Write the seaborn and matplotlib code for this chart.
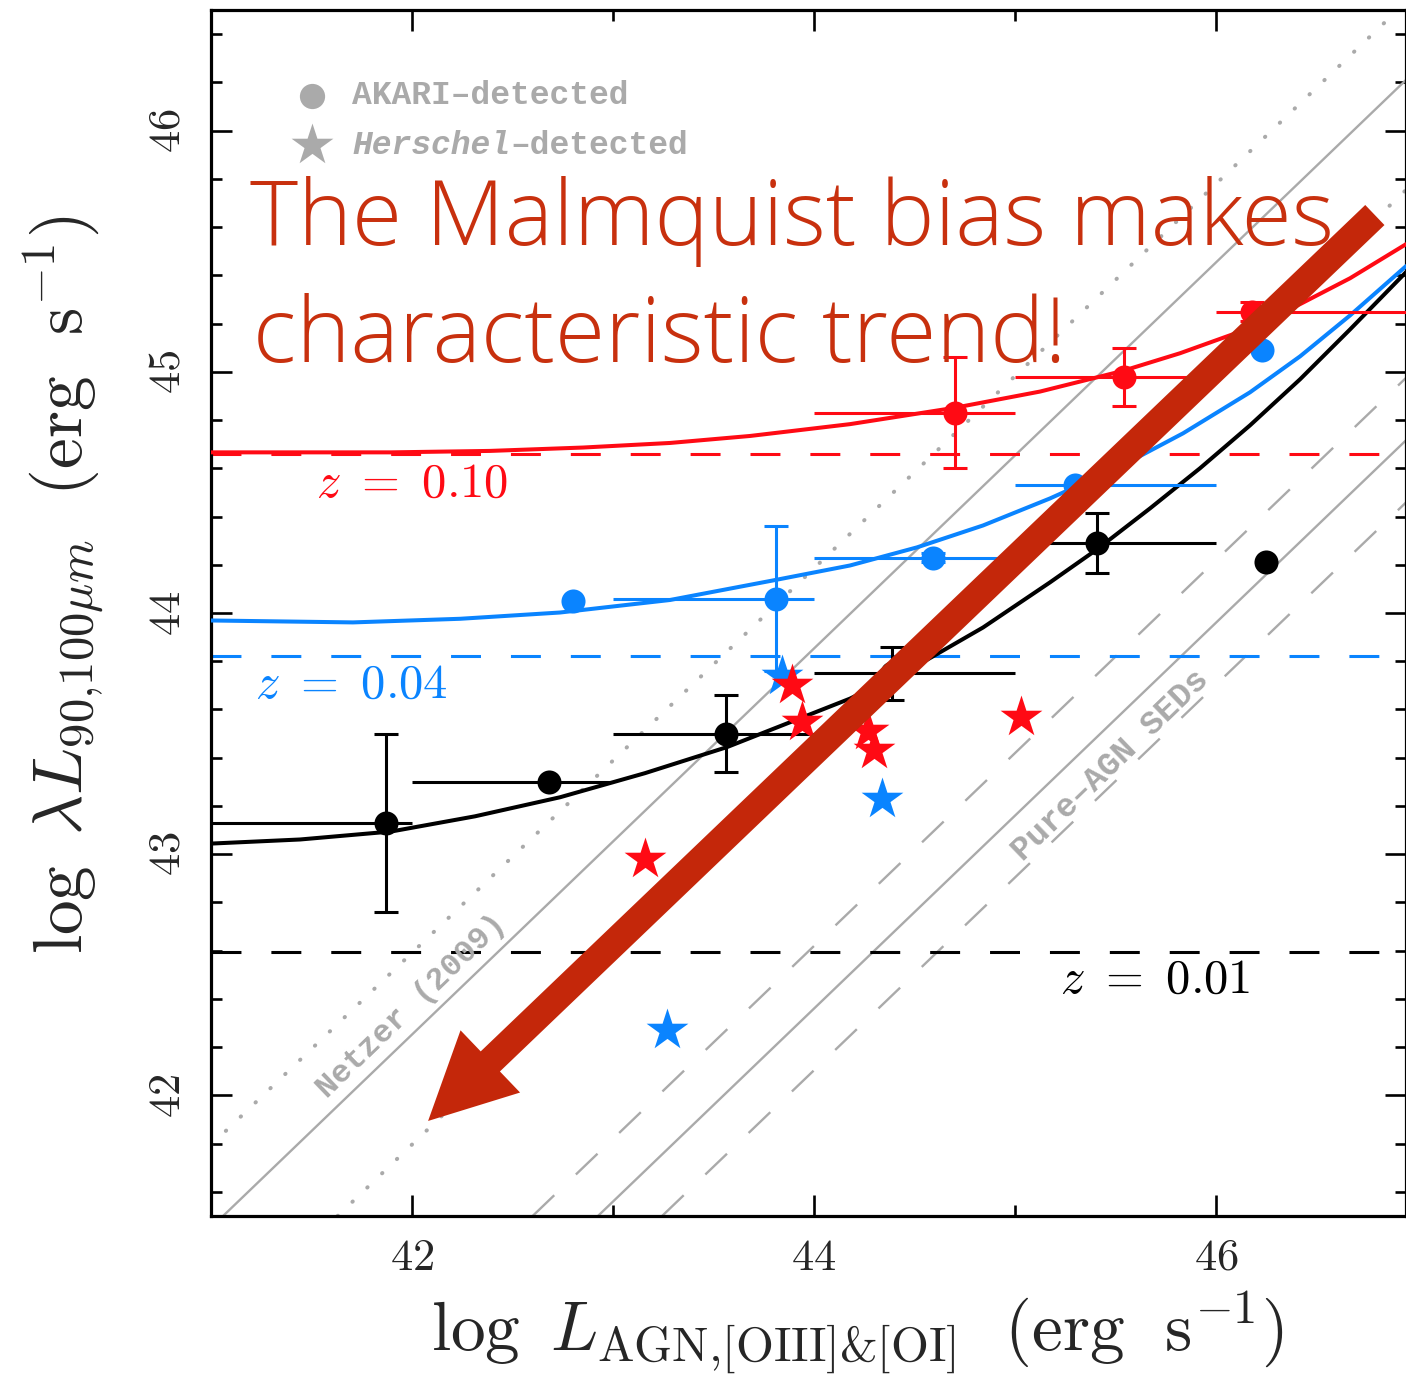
import numpy as np
import pandas as pd
import matplotlib
matplotlib.use("Agg")
import matplotlib.pyplot as plt
import seaborn as sns
from matplotlib.ticker import MultipleLocator, FuncFormatter

# ---------------- data ----------------
# binned AKARI detections (circles): x, y, bin edges, y errors
black_x = [41.87, 42.68, 43.56, 44.39, 45.41, 46.25]
black_y = [43.13, 43.30, 43.50, 43.75, 44.29, 44.21]
black_lo = [41.0, 42.0, 43.0, 44.0, 45.0, None]
black_hi = [42.0, 43.0, 44.0, 45.0, 46.0, None]
black_yerr = [0.37, 0.0, 0.16, 0.11, 0.125, 0.0]

blue_x = [42.80, 43.81, 44.59, 45.30, 46.23]
blue_y = [44.05, 44.06, 44.23, 44.53, 45.09]
blue_lo = [None, 43.0, 44.0, 45.0, None]
blue_hi = [None, 44.0, 45.0, 46.0, None]
blue_yerr = [0.0, 0.30, 0.02, 0.0, 0.0]

red_x = [44.70, 45.54, 46.18]
red_y = [44.83, 44.98, 45.25]
red_lo = [44.0, 45.0, 46.0]
red_hi = [45.0, 46.0, 47.0]
red_yerr = [0.23, 0.12, 0.04]

# Herschel detections (stars)
red_star_x = [43.89, 43.94, 44.27, 44.30, 45.03, 43.16]
red_star_y = [43.70, 43.55, 43.51, 43.43, 43.57, 42.98]
blue_star_x = [43.84, 44.34, 43.27]
blue_star_y = [43.74, 43.23, 42.27]

# model curves (read points)
red_curve_x = [41.000, 41.896, 42.388, 42.851, 43.284, 43.682, 44.179, 44.701,
               45.124, 45.537, 45.821, 46.085, 46.368, 46.667, 46.945]
red_curve_y = [44.666, 44.666, 44.672, 44.686, 44.705, 44.734, 44.783, 44.851,
               44.918, 45.004, 45.077, 45.156, 45.259, 45.388, 45.529]
blue_curve_x = [41.000, 41.706, 42.239, 42.736, 43.284, 43.796, 44.179, 44.512,
                44.841, 45.174, 45.507, 45.836, 46.169, 46.418, 46.667, 46.945]
blue_curve_y = [43.969, 43.961, 43.976, 44.002, 44.054, 44.135, 44.197, 44.272,
                44.363, 44.475, 44.600, 44.745, 44.915, 45.064, 45.234, 45.438]
black_curve_x = [41.000, 41.443, 41.896, 42.313, 42.736, 43.159, 43.567, 44.179,
                 44.512, 44.841, 45.174, 45.408, 45.672, 45.920, 46.169, 46.418,
                 46.667, 46.945]
black_curve_y = [43.044, 43.061, 43.094, 43.157, 43.236, 43.336, 43.444, 43.645,
                 43.782, 43.940, 44.127, 44.264, 44.434, 44.600, 44.778, 44.969,
                 45.176, 45.413]

# redshift flux limits
z_levels = [44.658, 43.82, 42.595]
z_labels = ["0.10", "0.04", "0.01"]

# reference relations: two points on each line
netzer_pts = [(41.06, 41.50), (46.945, 46.21)]
netzer_up_pts = [(41.02, 41.81), (46.17, 45.915)]
netzer_dn_pts = [(41.63, 41.50), (46.94, 45.75)]
agn_pts = [(42.925, 41.50), (46.945, 44.716)]
agn_up_pts = [(42.60, 41.50), (46.035, 44.247)]
agn_dn_pts = [(43.244, 41.50), (46.244, 43.898)]

arrow_start = (46.79, 45.65)
arrow_tip = (42.08, 41.894)

# ---------------- style ----------------
sns.set_theme(style="ticks")
plt.rcParams["font.family"] = ["DejaVu Serif"]
plt.rcParams["mathtext.fontset"] = "cm"

RED = "#ff0a14"
BLUE = "#0a84ff"
BLACK = "#000000"
GRAY = "#aaaaaa"
ARROW = "#c4270a"

W, H = 1406, 1381
fig = plt.figure(figsize=(W / 100, H / 100), dpi=100)
ax = fig.add_axes([211 / W, 1 - 1216 / H, (1406 - 211) / W, (1216 - 10) / H])
ax.set_xlim(41, 46.945)
ax.set_ylim(41.5, 46.5)

# gray relation lines
for pts in [netzer_pts, agn_pts]:
    ax.axline(pts[0], pts[1], color=GRAY, lw=1.7, ls="-", zorder=1)
for pts in [netzer_up_pts, netzer_dn_pts]:
    ax.axline(pts[0], pts[1], color=GRAY, lw=2.9, ls=(0, (0.1, 5.0)),
              dash_capstyle="round", zorder=1)
for pts in [agn_up_pts, agn_dn_pts]:
    ax.axline(pts[0], pts[1], color=GRAY, lw=1.7, ls=(0, (12.7, 12.7)), zorder=1)

# flux-limit lines
for lev, col in zip(z_levels, [RED, BLUE, BLACK]):
    ax.axhline(lev, color=col, lw=2.2, ls=(0, (9.8, 9.8)), zorder=2)

# curves
for cx, cy, col in [(red_curve_x, red_curve_y, RED),
                    (blue_curve_x, blue_curve_y, BLUE),
                    (black_curve_x, black_curve_y, BLACK)]:
    sns.lineplot(x=cx, y=cy, color=col, lw=2.9, ax=ax, sort=False,
                 estimator=None, zorder=3)

# error bars and points
def draw_set(xs, ys, los, his, yerrs, col):
    for x, y, lo, hi, ye in zip(xs, ys, los, his, yerrs):
        if lo is not None:
            ax.errorbar([x], [y], xerr=[[x - lo], [hi - x]], fmt="none",
                        ecolor=col, elinewidth=2.2, capsize=0, zorder=4)
        if ye > 0:
            ax.errorbar([x], [y], yerr=[[ye], [ye]], fmt="none", ecolor=col,
                        elinewidth=2.2, capsize=8.5, capthick=2.2, zorder=4)
    sns.scatterplot(x=xs, y=ys, color=col, s=300, linewidth=0, ax=ax,
                    zorder=5, legend=False)

draw_set(black_x, black_y, black_lo, black_hi, black_yerr, BLACK)
draw_set(blue_x, blue_y, blue_lo, blue_hi, blue_yerr, BLUE)
draw_set(red_x, red_y, red_lo, red_hi, red_yerr, RED)

sns.scatterplot(x=blue_star_x, y=blue_star_y, color=BLUE, marker="*", s=1000,
                linewidth=0, ax=ax, zorder=6, legend=False)
sns.scatterplot(x=red_star_x, y=red_star_y, color=RED, marker="*", s=1000,
                linewidth=0, ax=ax, zorder=6, legend=False)

# z labels
for (zx, zy), lab, col in zip([(41.52, 44.537), (41.219, 43.703), (45.224, 42.483)],
                              z_labels, [RED, BLUE, BLACK]):
    ax.text(zx, zy, r"$z\ =\ %s$" % lab, color=col, fontsize=35,
            va="center", ha="left", zorder=7)

# relation labels
ax.text(42.0, 42.371, "Netzer (2009)", color=GRAY, family="Liberation Mono",
        weight="bold", fontsize=23, rotation=44, rotation_mode="anchor",
        ha="center", va="center", zorder=7)
ax.text(45.473, 43.367, "Pure\u2013AGN SEDs", color=GRAY, family="Liberation Mono",
        weight="bold", fontsize=24, rotation=44, rotation_mode="anchor",
        ha="center", va="center", zorder=7)

# legend (manual)
ax.scatter([312 / W], [1 - 96 / H], transform=fig.transFigure, s=330,
           color=GRAY, linewidth=0, zorder=7, clip_on=False)
ax.scatter([312 / W], [1 - 145 / H], transform=fig.transFigure, marker="*",
           s=1000, color=GRAY, linewidth=0, zorder=7, clip_on=False)
t1 = fig.text(352 / W, 1 - 96 / H, "AKARI\u2013detected", color=GRAY,
              family="Liberation Mono", weight="bold", fontsize=23.8,
              va="center", ha="left")
t2 = fig.text(352 / W, 1 - 145 / H, "Herschel", color=GRAY,
              family="Liberation Mono", weight="bold", style="italic",
              fontsize=23.8, va="center", ha="left")

# ticks
ax.xaxis.set_major_locator(MultipleLocator(2))
ax.xaxis.set_minor_locator(MultipleLocator(1))
ax.yaxis.set_major_locator(MultipleLocator(1))
ax.yaxis.set_minor_locator(MultipleLocator(0.2))
ax.tick_params(which="both", direction="in", top=True, right=True,
               color="black", width=1.9)
ax.tick_params(which="major", length=15)
ax.tick_params(which="minor", length=8)
ax.tick_params(axis="x", which="major", labelsize=32, pad=14)
ax.tick_params(axis="y", which="major", labelsize=32, pad=16)
fmt = FuncFormatter(lambda v, p: r"$%d$" % int(round(v)))
ax.xaxis.set_major_formatter(fmt)
ax.yaxis.set_major_formatter(fmt)
for lab in ax.get_yticklabels():
    lab.set_rotation(90)
    lab.set_va("center")
for sp in ax.spines.values():
    sp.set_linewidth(2.3)
    sp.set_color("black")

# axis labels
fig.text(857 / W, 1 - 1333 / H,
         r"$\log\ L_{\mathrm{AGN{,}[OIII]&[OI]}}\ \ (\mathrm{erg\ \ s}^{-1})$",
         fontsize=50, ha="center", va="center")
fig.text(64 / W, 1 - 585 / H,
         r"$\log\ \lambda L_{90{,}100\mu m}\ \ (\mathrm{erg\ \ s}^{-1})$",
         fontsize=50, ha="center", va="center", rotation=90)

# headline
fig.text(250 / W, 1 - 245 / H, "The Malmquist bias makes", color="#c8300e",
         family="Open Sans", weight="light", fontsize=65.8, va="baseline",
         ha="left", zorder=8)
fig.text(253 / W, 1 - 362 / H, "characteristic trend!", color="#c8300e",
         family="Open Sans", weight="light", fontsize=65.8, va="baseline",
         ha="left", zorder=8)

# big arrow
ax.annotate("", xy=arrow_tip, xytext=arrow_start,
            arrowprops=dict(arrowstyle="simple,head_length=6.2,head_width=6.2,tail_width=2.0",
                            mutation_scale=10, color=ARROW, shrinkA=0, shrinkB=0,
                            lw=0),
            zorder=9)

fig.canvas.draw()
r = fig.canvas.get_renderer()
bb = t2.get_window_extent(r)
fig.text(bb.x1 / fig.bbox.width, 1 - 145 / H, "\u2013detected", color=GRAY,
         family="Liberation Mono", weight="bold", fontsize=23.8,
         va="center", ha="left")

fig.savefig("out.png", dpi=100)
